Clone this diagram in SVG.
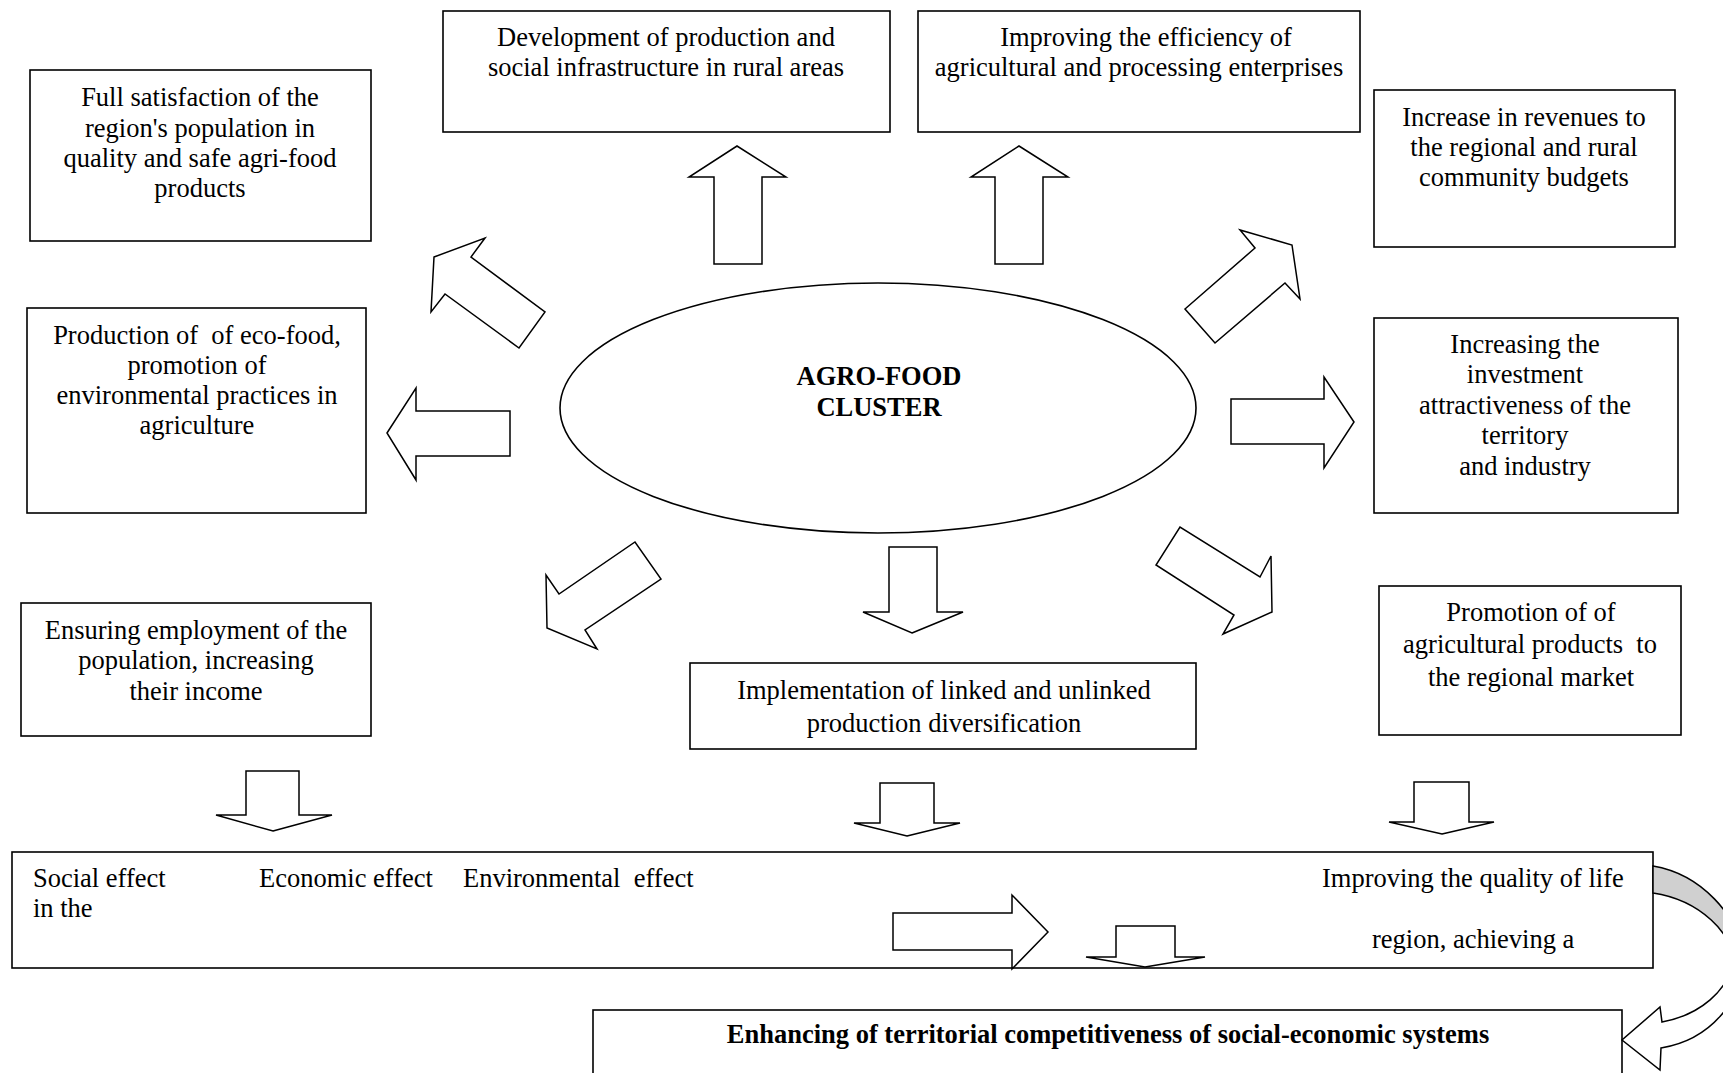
<svg xmlns="http://www.w3.org/2000/svg" width="1723" height="1073" viewBox="0 0 1723 1073">
  <style>
    .box { fill: #fff; stroke: #000; stroke-width: 1.6; }
    .arr { fill: #fff; stroke: #000; stroke-width: 1.5; stroke-linejoin: miter; }
    .t { font-family: "Liberation Serif", "Times New Roman", serif; font-size: 26.5px; fill: #000; text-anchor: middle; }
    .l { text-anchor: start; white-space: pre; }
    .b { font-weight: bold; }
  </style>
  <rect width="1723" height="1073" fill="#fff"/>

  <!-- outcome boxes -->
  <g id="full-satisfaction">
    <rect class="box" x="30" y="70" width="341" height="171"/>
    <text class="t"><tspan x="200" y="106">Full satisfaction of the</tspan><tspan x="200" y="137">region's population in</tspan><tspan x="200" y="167">quality and safe agri-food</tspan><tspan x="200" y="197">products</tspan></text>
  </g>
  <g id="infrastructure">
    <rect class="box" x="443" y="11" width="447" height="121"/>
    <text class="t"><tspan x="666" y="46">Development of production and</tspan><tspan x="666" y="76">social infrastructure in rural areas</tspan></text>
  </g>
  <g id="efficiency">
    <rect class="box" x="918" y="11" width="442" height="121"/>
    <text class="t"><tspan x="1146" y="46">Improving the efficiency of</tspan><tspan x="1139" y="76">agricultural and processing enterprises</tspan></text>
  </g>
  <g id="revenues">
    <rect class="box" x="1374" y="90" width="301" height="157"/>
    <text class="t"><tspan x="1524" y="126">Increase in revenues to</tspan><tspan x="1524" y="156">the regional and rural</tspan><tspan x="1524" y="186">community budgets</tspan></text>
  </g>
  <g id="eco-food">
    <rect class="box" x="27" y="308" width="339" height="205"/>
    <text class="t"><tspan x="197" y="344" style="white-space:pre">Production of  of eco-food,</tspan><tspan x="197" y="374">promotion of</tspan><tspan x="197" y="404">environmental practices in</tspan><tspan x="197" y="434">agriculture</tspan></text>
  </g>
  <g id="investment">
    <rect class="box" x="1374" y="318" width="304" height="195"/>
    <text class="t"><tspan x="1525" y="353">Increasing the</tspan><tspan x="1525" y="383">investment</tspan><tspan x="1525" y="414">attractiveness of the</tspan><tspan x="1525" y="444">territory</tspan><tspan x="1525" y="475">and industry</tspan></text>
  </g>
  <g id="employment">
    <rect class="box" x="21" y="603" width="350" height="133"/>
    <text class="t"><tspan x="196" y="639">Ensuring employment of the</tspan><tspan x="196" y="669">population, increasing</tspan><tspan x="196" y="700">their income</tspan></text>
  </g>
  <g id="diversification">
    <rect class="box" x="690" y="663" width="506" height="86"/>
    <text class="t"><tspan x="944" y="699">Implementation of linked and unlinked</tspan><tspan x="944" y="732">production diversification</tspan></text>
  </g>
  <g id="promotion">
    <rect class="box" x="1379" y="586" width="302" height="149"/>
    <text class="t"><tspan x="1531" y="621">Promotion of of</tspan><tspan x="1530" y="653" style="white-space:pre">agricultural products  to</tspan><tspan x="1531" y="686">the regional market</tspan></text>
  </g>

  <!-- central cluster -->
  <g id="cluster">
    <ellipse cx="878" cy="408" rx="318" ry="125" fill="#fff" stroke="#000" stroke-width="1.6"/>
    <text class="t b"><tspan x="879" y="385">AGRO-FOOD</tspan><tspan x="879" y="416">CLUSTER</tspan></text>
  </g>

  <!-- effects band -->
  <g id="effects">
    <rect class="box" x="12" y="852" width="1641" height="116" stroke-width="2"/>
    <text class="t l" x="33" y="887">Social effect</text>
    <text class="t l" x="33" y="917">in the</text>
    <text class="t l" x="259" y="887">Economic effect</text>
    <text class="t l" x="463" y="887">Environmental  effect</text>
    <text class="t l" x="1322" y="887">Improving the quality of life</text>
    <text class="t l" x="1372" y="948">region, achieving a</text>
  </g>

  <!-- final result -->
  <g id="competitiveness">
    <rect class="box" x="593" y="1010" width="1029" height="80"/>
    <text class="t b" x="1108" y="1043">Enhancing of territorial competitiveness of social-economic systems</text>
  </g>

  <!-- block arrows -->
  <g id="connectors">
    <polygon class="arr" points="737,146 786,177 762,177 762,264 714,264 714,177 689,177"/>
    <polygon class="arr" points="1019,146 1068,177 1043,177 1043,264 995,264 995,177 971,177"/>
    <polygon class="arr" points="387,433 416,388 416,411 510,411 510,456 416,456 416,480"/>
    <polygon class="arr" points="1354,422 1324,377 1324,399 1231,399 1231,444 1324,444 1324,468"/>
    <polygon class="arr" points="434,257 485,238 471,257 545,312 519,348 445,294 431,312"/>
    <polygon class="arr" points="1292,245 1300,299 1285,283 1215,343 1185,309 1255,248 1240,230"/>
    <polygon class="arr" points="547,628 546,575 559,594 635,542 661,579 585,630 597,649"/>
    <polygon class="arr" points="912,633 963,612 937,612 937,547 889,547 889,612 863,612"/>
    <polygon class="arr" points="1272,612 1223,634 1234,615 1156,565 1180,527 1260,577 1271,556"/>
    <polygon class="arr" points="273,831 332,815 299,815 299,771 246,771 246,815 216,815"/>
    <polygon class="arr" points="907,836 960,823 934,823 934,783 880,783 880,823 854,823"/>
    <polygon class="arr" points="1442,834 1494,822 1469,822 1469,782 1414,782 1414,822 1389,822"/>
    <polygon class="arr" points="1048,932 1012,969 1012,950 893,950 893,913 1012,913 1012,895"/>
    <polygon class="arr" points="1145,967 1205,957 1175,957 1175,926 1116,926 1116,957 1086,957"/>
    <!-- curved arrow from the effects band down to the final result -->
    <path class="arr" fill="#d0d0d0" style="fill:#d0d0d0" d="M1653,866 C1700,874 1740,915 1742,958 L1732,962 C1735,935 1700,900 1653,893 Z"/>
    <path class="arr" d="M1742,958 C1744,1000 1710,1040 1661,1048 L1660,1070 L1622,1040 L1660,1007 L1662,1022 C1700,1015 1729,990 1732,962 Z"/>
  </g>
</svg>
